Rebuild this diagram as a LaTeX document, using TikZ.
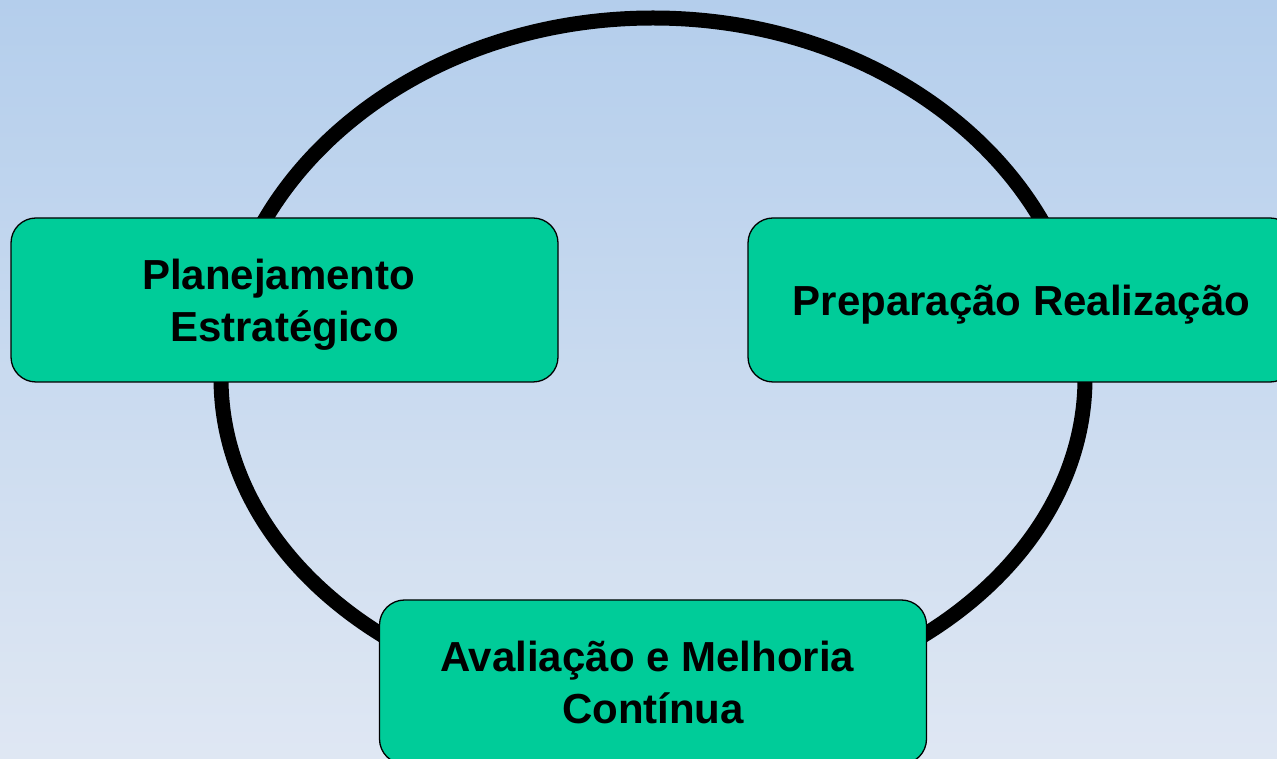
\documentclass[tikz,border=0pt]{standalone}
\usepackage{fontspec}
\setmainfont{Liberation Sans}
\definecolor{bgtop}{RGB}{180,206,236}
\definecolor{bgbot}{RGB}{223,231,243}
\definecolor{boxfill}{RGB}{0,204,153}
\tikzset{
  stagebox/.style={draw=black, line width=1.3pt, fill=boxfill, rounded corners=25pt,
    minimum width=547pt, minimum height=164pt, inner sep=0pt, align=center, text depth=0pt,
    font=\fontsize{42pt}{52pt}\selectfont\bfseries},
  cycleline/.style={draw=black, line width=15pt}
}
\begin{document}
\begin{tikzpicture}
\useasboundingbox (0pt,0pt) rectangle (1277pt,758pt);
\clip (0pt,0pt) rectangle (1277pt,758pt);
\shade[top color=bgtop, bottom color=bgbot] (0pt,0pt) rectangle (1277pt,758pt);
\draw[cycleline] (221pt,380pt) arc[start angle=180, end angle=0, x radius=432pt, y radius=360pt]
  arc[start angle=0, end angle=-180, x radius=432pt, y radius=330pt];
\node[stagebox] (plan) at (284.5pt,458pt) {Planejamento\rule{0.28em}{0pt}\\Estratégico};
\node[stagebox] (prep) at (1021.5pt,458pt) {Preparação Realização};
\node[stagebox] (aval) at (653pt,76pt) {Avaliação e Melhoria\rule{0.28em}{0pt}\\Contínua};
\end{tikzpicture}
\end{document}
